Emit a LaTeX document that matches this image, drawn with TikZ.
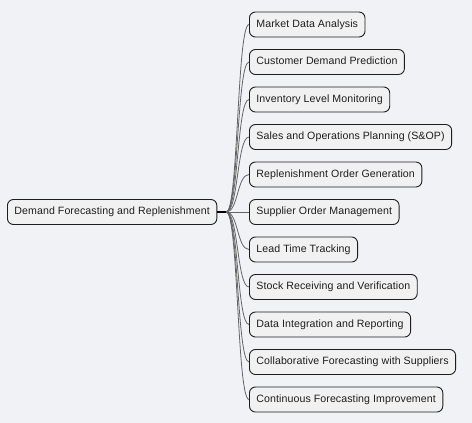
\documentclass[tikz,border=0pt]{standalone}
\usepackage{fontspec}
\setmainfont[LetterSpace=0.8]{Liberation Sans}
\usepackage{xcolor}
\definecolor{canvas}{RGB}{240,242,246}
\definecolor{boxfill}{RGB}{241,241,241}
\definecolor{boxline}{RGB}{30,30,30}
\definecolor{linkgray}{RGB}{100,100,100}
\definecolor{inkgray}{RGB}{30,30,30}

\tikzset{
  topic/.style={draw=boxline, fill=boxfill, text=inkgray, rounded corners=6pt, line width=0.9pt,
    inner xsep=7pt, inner ysep=0pt, minimum height=25pt, text height=7.8pt, text depth=2.2pt,
    anchor=west, font=\fontsize{10.6}{12}\selectfont},
  link/.style={draw=linkgray, line width=0.8pt},
}

\begin{document}
\begin{tikzpicture}[x=1pt, y=-1pt]
  \def\dy{37.5}
  \fill[canvas] (0,0) rectangle (472,423);
  \node[topic] (root) at (7, 212) {Demand Forecasting and Replenishment};
  \draw[line width=2pt, black]
    (root.east) -- ++(9,0) coordinate (hub)
  ;
  \foreach \i/\txt in {
    0/Market Data Analysis,
    1/Customer Demand Prediction,
    2/Inventory Level Monitoring,
    3/Sales and Operations Planning (S\&OP),
    4/Replenishment Order Generation,
    5/Supplier Order Management,
    6/Lead Time Tracking,
    7/Stock Receiving and Verification,
    8/Data Integration and Reporting,
    9/Collaborative Forecasting with Suppliers,
    10/Continuous Forecasting Improvement%
  }{
    \node[topic] (leaf\i) at (249, 24.5+\i*\dy) {\txt};
    \draw[link]
      (hub) .. controls +(12,0) and +(-12,0) .. (leaf\i.west)
    ;
  }
\end{tikzpicture}
\end{document}
